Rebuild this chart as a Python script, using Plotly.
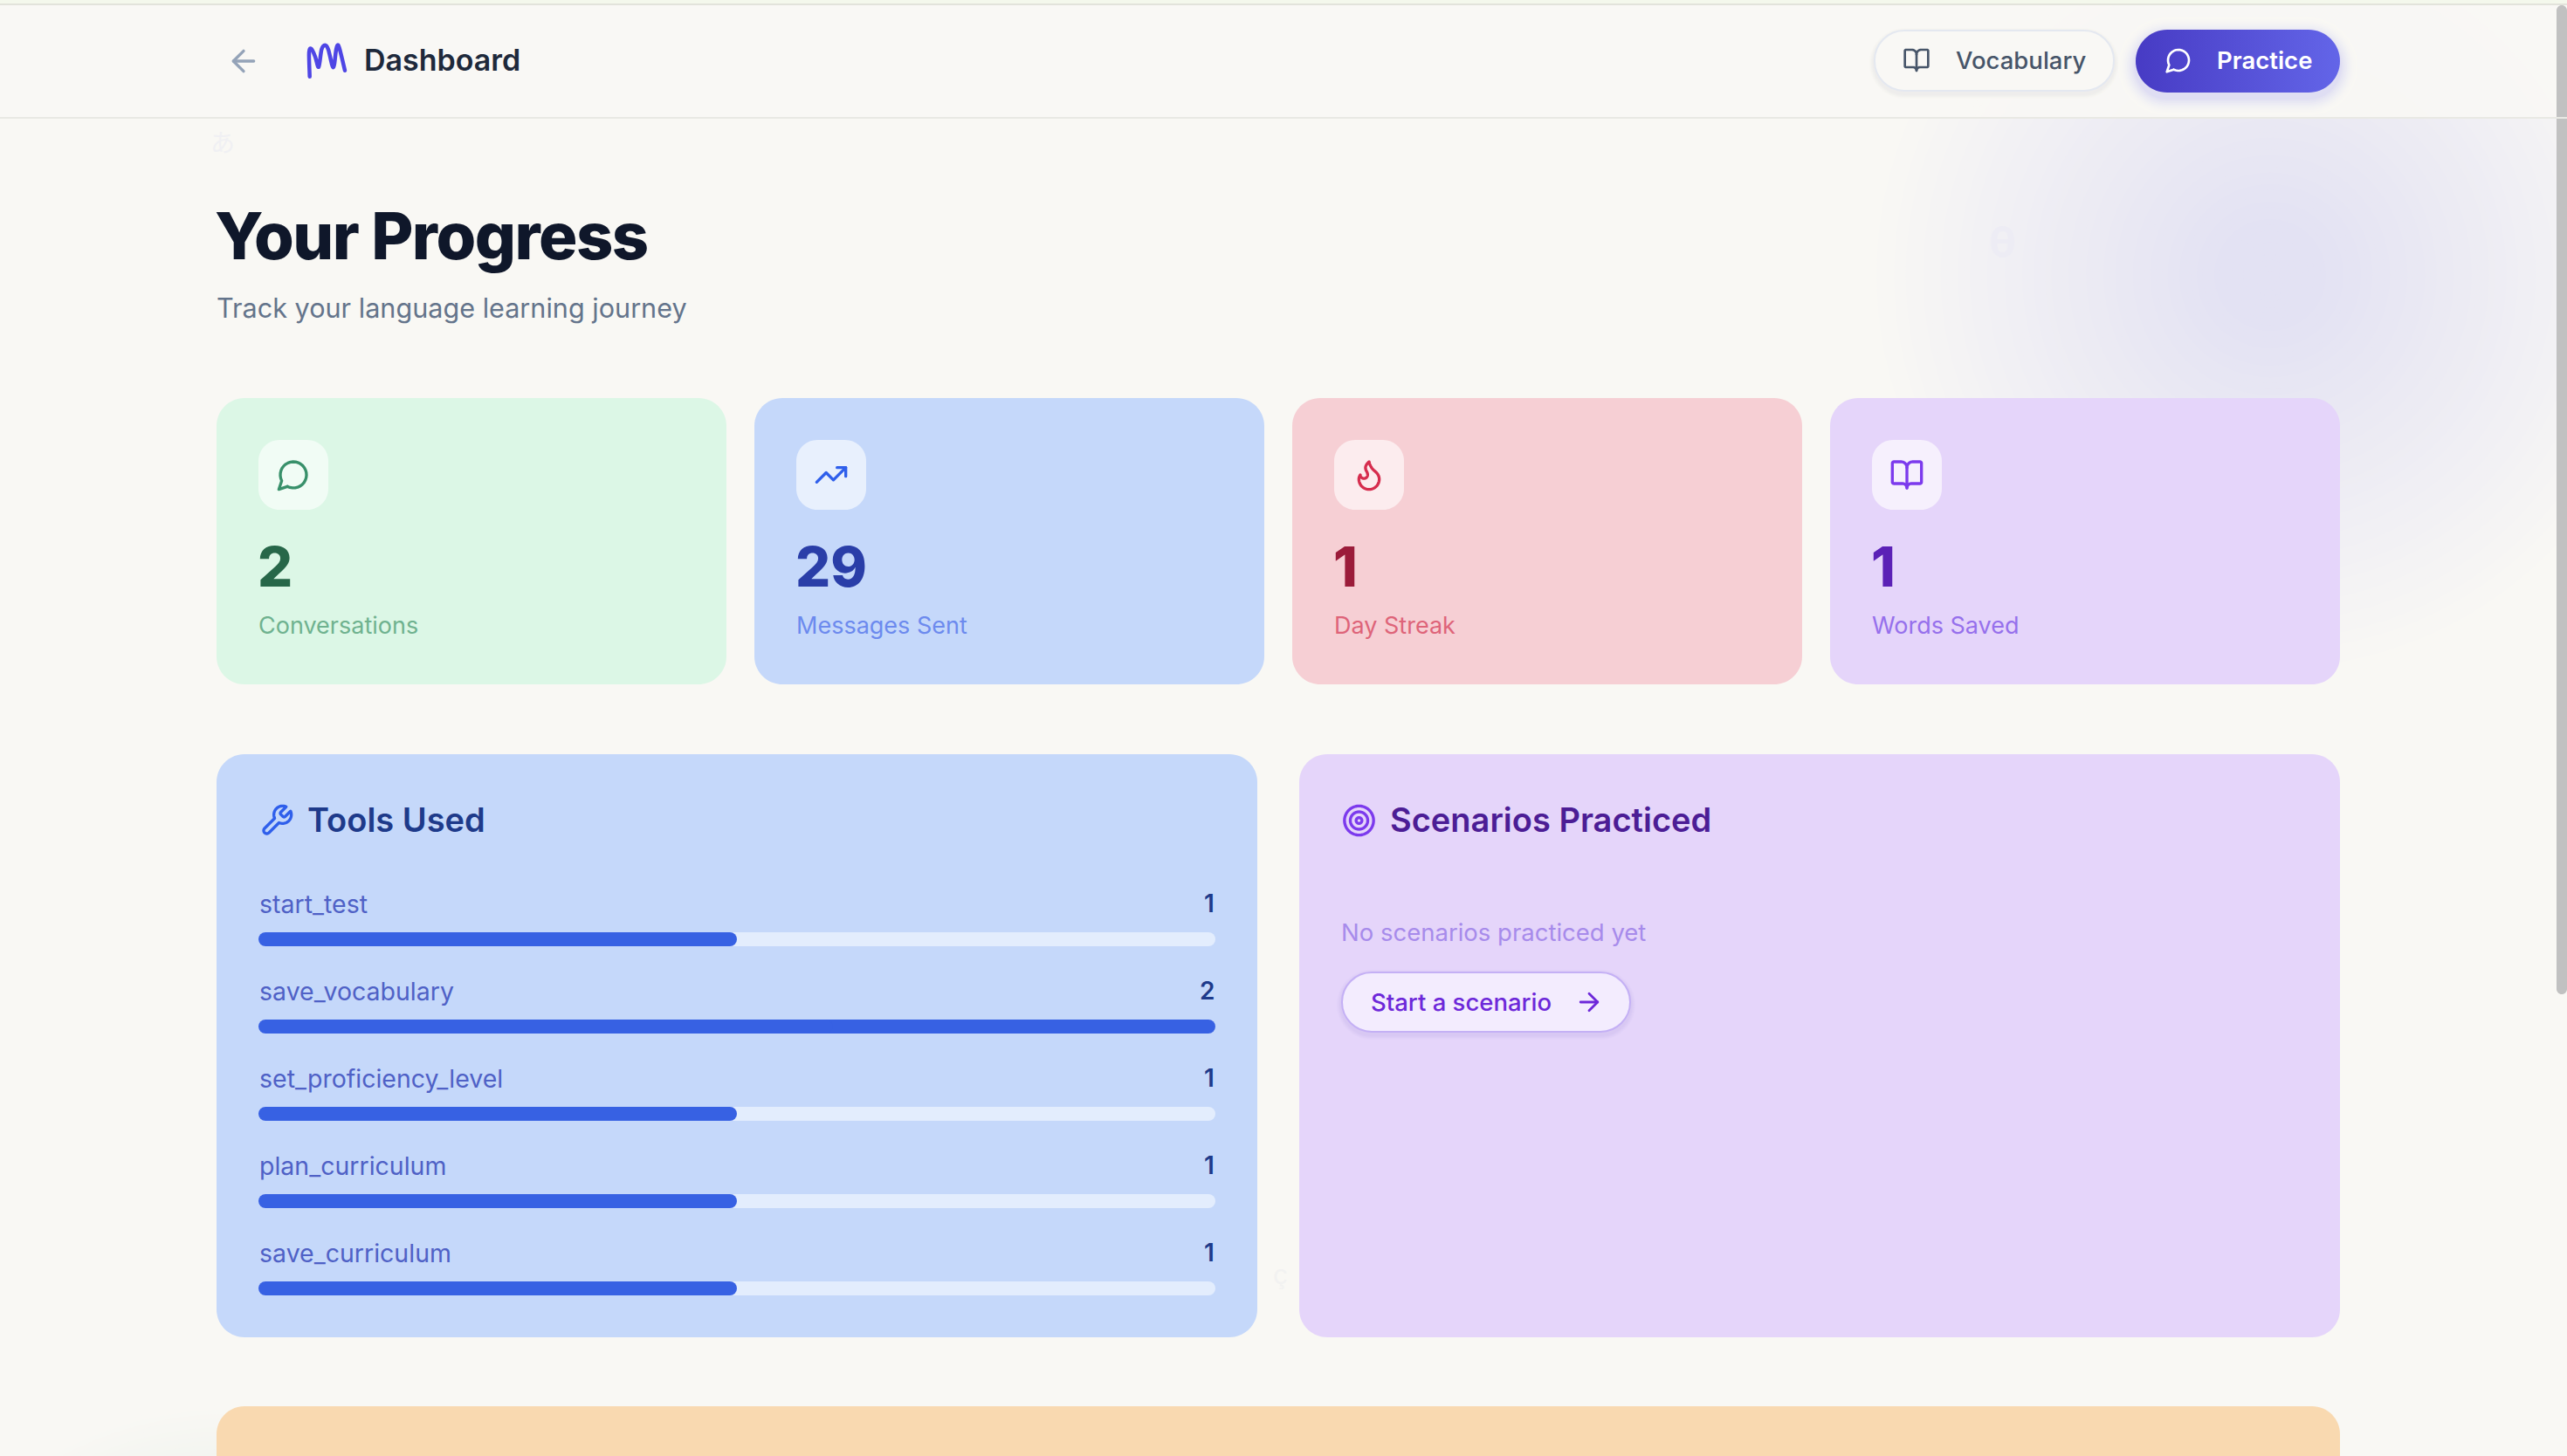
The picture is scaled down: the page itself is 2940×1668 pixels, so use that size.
import re, math
import plotly.graph_objects as go

W, H = 2940, 1668
FONT = "Inter"

# ---- data ----
tool_names = ["start_test", "save_vocabulary", "set_proficiency_level", "plan_curriculum", "save_curriculum"]
tool_counts = [1, 2, 1, 1, 1]
stat_values = ["2", "29", "1", "1"]
stat_labels = ["Conversations", "Messages Sent", "Day Streak", "Words Saved"]
page_title = "Your Progress"
page_subtitle = "Track your language learning journey"

BG = "#F9F8F4"
BLUE_CARD, PURPLE_CARD, GREEN_CARD, PINK_CARD, ORANGE_CARD = "#C5D8FA", "#E5D5FA", "#DCF7E6", "#F6CFD4", "#F9D9B0"

ICON = {
    "back": ["M19 12H5", "M12 19l-7-7 7-7"],
    "right": ["M5 12h14", "M12 5l7 7-7 7"],
    "book": ["M12 7v14", "M3 18a1 1 0 0 1-1-1V4a1 1 0 0 1 1-1h5a4 4 0 0 1 4 4 4 4 0 0 1 4-4h5a1 1 0 0 1 1 1v13a1 1 0 0 1-1 1h-6a3 3 0 0 0-3 3 3 3 0 0 0-3-3z"],
    "chat": ["M7.9 20A9 9 0 1 0 4 16.1L2 22Z"],
    "trend": ["M16 7h6v6", "M22 7l-8.5 8.5-5-5L2 17"],
    "flame": ["M8.5 14.5A2.5 2.5 0 0 0 11 12c0-1.38-.5-2-1-3-1.072-2.143-.224-4.054 2-6 .5 2.5 2 4.9 4 6.5 2 1.6 3 3.5 3 5.5a7 7 0 1 1-14 0c0-1.153.433-2.294 1-3a2.5 2.5 0 0 0 2.5 2.5z"],
    "wrench": ["M14.7 6.3a1 1 0 0 0 0 1.4l1.6 1.6a1 1 0 0 0 1.4 0l3.77-3.77a6 6 0 0 1-7.94 7.94l-6.91 6.91a2.12 2.12 0 0 1-3-3l6.91-6.91a6 6 0 0 1 7.94-7.94l-3.76 3.76z"],
    "target": ["M22 12A10 10 0 1 1 2 12A10 10 0 1 1 22 12Z", "M18 12A6 6 0 1 1 6 12A6 6 0 1 1 18 12Z", "M14 12A2 2 0 1 1 10 12A2 2 0 1 1 14 12Z"],
}


def arc_pts(x1, y1, rx, ry, large, sweep, x2, y2, n=28):
    dx, dy = (x1 - x2) / 2, (y1 - y2) / 2
    lam = dx * dx / (rx * rx) + dy * dy / (ry * ry)
    if lam > 1:
        rx *= math.sqrt(lam); ry *= math.sqrt(lam)
    num = max(0, rx*rx*ry*ry - rx*rx*dy*dy - ry*ry*dx*dx)
    den = rx*rx*dy*dy + ry*ry*dx*dx
    c = math.sqrt(num / den) if den else 0
    if large == sweep:
        c = -c
    cxp, cyp = c * rx * dy / ry, -c * ry * dx / rx
    cx, cy = cxp + (x1 + x2) / 2, cyp + (y1 + y2) / 2
    a0 = math.atan2((dy - cyp) / ry, (dx - cxp) / rx)
    a1 = math.atan2((-dy - cyp) / ry, (-dx - cxp) / rx)
    d = a1 - a0
    if sweep and d < 0:
        d += 2 * math.pi
    if not sweep and d > 0:
        d -= 2 * math.pi
    return [(cx + rx * math.cos(a0 + d * i / n), cy + ry * math.sin(a0 + d * i / n)) for i in range(1, n + 1)]


def flatten(d):
    toks = re.findall(r"[MmLlHhVvCcAaZz]|-?\d*\.?\d+", d)
    i, out, cur, x, y, cmd = 0, [], [], 0.0, 0.0, None
    while i < len(toks):
        if re.match(r"[A-Za-z]", toks[i]):
            cmd = toks[i]; i += 1
            if cmd in "Zz":
                if cur:
                    cur.append(cur[0]); x, y = cur[0]
                continue
        def nx(k):
            nonlocal i
            v = [float(t) for t in toks[i:i + k]]; i += k
            return v
        rel = cmd.islower(); c = cmd.upper()
        if c == "M":
            a, b = nx(2); x, y = (x + a, y + b) if rel else (a, b)
            if cur:
                out.append(cur)
            cur = [(x, y)]; cmd = "l" if rel else "L"
        elif c == "L":
            a, b = nx(2); x, y = (x + a, y + b) if rel else (a, b); cur.append((x, y))
        elif c == "H":
            a, = nx(1); x = x + a if rel else a; cur.append((x, y))
        elif c == "V":
            a, = nx(1); y = y + a if rel else a; cur.append((x, y))
        elif c == "C":
            v = nx(6)
            ox, oy = (x, y) if rel else (0, 0)
            p1, p2, p3 = (v[0]+ox, v[1]+oy), (v[2]+ox, v[3]+oy), (v[4]+ox, v[5]+oy)
            for k in range(1, 13):
                t = k / 12; u = 1 - t
                cur.append((u**3*x + 3*u*u*t*p1[0] + 3*u*t*t*p2[0] + t**3*p3[0],
                            u**3*y + 3*u*u*t*p1[1] + 3*u*t*t*p2[1] + t**3*p3[1]))
            x, y = p3
        elif c == "A":
            v = nx(7)
            ex, ey = (x + v[5], y + v[6]) if rel else (v[5], v[6])
            cur.extend(arc_pts(x, y, v[0], v[1], int(v[3]), int(v[4]), ex, ey))
            x, y = ex, ey
    if cur:
        out.append(cur)
    return out


def fx(x): return x / W
def fy(y): return 1 - y / H


def rr_path(x0, y0, x1, y1, r):
    k = r * 0.4477
    P = lambda x, y: f"{fx(x):.6f},{fy(y):.6f}"
    return ("M" + P(x0 + r, y0) + "L" + P(x1 - r, y0)
            + "C" + P(x1 - k, y0) + " " + P(x1, y0 + k) + " " + P(x1, y0 + r)
            + "L" + P(x1, y1 - r)
            + "C" + P(x1, y1 - k) + " " + P(x1 - k, y1) + " " + P(x1 - r, y1)
            + "L" + P(x0 + r, y1)
            + "C" + P(x0 + k, y1) + " " + P(x0, y1 - k) + " " + P(x0, y1 - r)
            + "L" + P(x0, y0 + r)
            + "C" + P(x0, y0 + k) + " " + P(x0 + k, y0) + " " + P(x0 + r, y0) + "Z")


shapes, ann = [], []


def rr(x0, y0, x1, y1, r, fill, line=None, lw=0, layer="below"):
    shapes.append(dict(type="path", path=rr_path(x0, y0, x1, y1, r), xref="paper", yref="paper",
                       fillcolor=fill, line=dict(color=line or fill, width=lw), layer=layer))


def rect(x0, y0, x1, y1, fill):
    shapes.append(dict(type="rect", xref="paper", yref="paper", x0=fx(x0), x1=fx(x1), y0=fy(y1), y1=fy(y0),
                       fillcolor=fill, line=dict(width=0), layer="below"))


def circle(cx, cy, r, fill):
    shapes.append(dict(type="circle", xref="paper", yref="paper", x0=fx(cx - r), x1=fx(cx + r),
                       y0=fy(cy + r), y1=fy(cy - r), fillcolor=fill, line=dict(width=0), layer="below"))


def lerp(c0, c1, t):
    a = [int(c0[i:i + 2], 16) for i in (1, 3, 5)]
    b = [int(c1[i:i + 2], 16) for i in (1, 3, 5)]
    return "#%02X%02X%02X" % tuple(round(p + (q - p) * t) for p, q in zip(a, b))


def icon(name, cx, cy, s, color, lw=None):
    for d in ICON[name]:
        for sub in flatten(d):
            path = "M" + "L".join(f"{fx(cx + (p[0] - 12) * s):.6f},{fy(cy + (p[1] - 12) * s):.6f}" for p in sub)
            shapes.append(dict(type="path", path=path, xref="paper", yref="paper",
                               line=dict(color=color, width=lw or 2 * s), layer="above"))


def txt(s, x, y, size, color, weight=400, anchor="left", font=FONT):
    ann.append(dict(text=s, x=fx(x), y=fy(y), xref="paper", yref="paper", xanchor=anchor, yanchor="middle",
                    align="left" if anchor == "left" else "center",
                    showarrow=False, borderpad=0, borderwidth=0,
                    font=dict(family=font, size=size, color=color, weight=weight)))


# ---- background washes ----
N = 70
for i in range(N):
    t = i / (N - 1)
    r = 460 * (1 - t) + 4
    circle(2600, 315, r, lerp(BG, "#E3E2F3", min(1, t / 0.88)))
for r in range(409, 335, -5):
    circle(260, 2019, r, lerp(BG, "#CEE3D8", 1 - r / 409))

# header
rect(0, 6, W, 134, "rgba(248,247,244,0.92)")
rect(0, 0, W, 4, "#F4F8EC")
rect(0, 4, W, 6, "#E2E3DB")

# scrollbar
rr(2928, 6, 2940, 1139, 6, "#C1C1C1")

# ghost glyphs
txt("あ", 255, 162, 28, "#F0F0F3", 400, "center", "Noto Sans CJK JP")
txt("θ", 2293, 277, 50, "#EDECF4", 700, "center")
txt("ç", 1466, 1460, 30, "#F2F2F1", 400, "center")

# header content
icon("back", 279, 70, 1.667, "#94A3B8")
logo = [(354.7, 87.7), (354, 60), (356.7, 56), (361, 65), (365, 76.7), (368.3, 56.7), (372.3, 51.7), (376, 56.7),
        (381.7, 77.3), (385, 56.7), (387.3, 51.7), (390, 60), (395, 80.7)]
seg = f"M{fx(logo[0][0]):.6f},{fy(logo[0][1]):.6f}"
for i in range(len(logo) - 1):
    p0, p1, p2, p3 = logo[max(i - 1, 0)], logo[i], logo[i + 1], logo[min(i + 2, len(logo) - 1)]
    c1 = (p1[0] + (p2[0] - p0[0]) / 6, p1[1] + (p2[1] - p0[1]) / 6)
    c2 = (p2[0] - (p3[0] - p1[0]) / 6, p2[1] - (p3[1] - p1[1]) / 6)
    seg += f"C{fx(c1[0]):.6f},{fy(c1[1]):.6f} {fx(c2[0]):.6f},{fy(c2[1]):.6f} {fx(p2[0]):.6f},{fy(p2[1]):.6f}"
shapes.append(dict(type="path", xref="paper", yref="paper", layer="above", line=dict(color="#4F46E5", width=4.5), path=seg))
txt("Dashboard", 417, 69, 34, "#1E293B", 600)

for k in range(5, 0, -1):
    rr(2146 - k, 34 - k + 3, 2422 + k, 105 + k + 3, 36 + k, lerp(BG, "#ECEBEA", (6 - k) / 6))
rr(2147, 35, 2421, 104, 34, "#F9F8F5", "#E4E8F0", 2)
icon("book", 2195, 69, 1.333, "#475569")
txt("Vocabulary", 2240, 69, 27.5, "#475569", 500)

for k in range(20, 0, -2):
    rr(2446 - k, 34 - k + 6, 2680 + k, 106 + k + 6, 36 + k, lerp(BG, "#D9D9F3", ((22 - k) / 22) ** 2))
rect(0, 134, W, 136, "#E9E9E4")
icon("chat", 2495, 69, 1.333, "#FFFFFF")
txt("Practice", 2539, 69, 27.5, "#FFFFFF", 600)

# title
txt(page_title, 246, 270, 74, "#0F172A", 800)
txt(page_subtitle, 248, 352, 30.6, "#64748B", 400)

# stat cards
card_x = [248, 864, 1480, 2096]
card_fill = [GREEN_CARD, BLUE_CARD, PINK_CARD, PURPLE_CARD]
tile_fill = ["#F1FCF5", "#E8F0FD", "#FCECEE", "#F6F0FD"]
icon_names = ["chat", "trend", "flame", "book"]
icon_cols = ["#38906A", "#2F5FEB", "#D62D4E", "#7C3AED"]
num_cols = ["#276749", "#2A3EA8", "#9B1C3A", "#5B21B6"]
lab_cols = ["#6FB28F", "#6C8AEE", "#DE6479", "#9670EC"]
for x, cf, tf, nm, ic, nc, lc, v, lab in zip(card_x, card_fill, tile_fill, icon_names, icon_cols, num_cols, lab_cols,
                                             stat_values, stat_labels):
    rr(x, 456, x + 584, 784, 32, cf)
    rr(x + 48, 504, x + 128, 584, 24, tf)
    icon(nm, x + 88, 544, 1.667, ic)
    txt(v, x + 47, 649, 63, nc, 800)
    txt(lab, x + 48, 716, 27, lc, 400)

# panels
rr(248, 864, 1440, 1532, 32, BLUE_CARD)
rr(1488, 864, 2680, 1532, 32, PURPLE_CARD)
rr(248, 1611, 2680, 1800, 32, ORANGE_CARD)

icon("wrench", 317, 940, 1.667, "#2F5FEB")
txt("Tools Used", 352, 939, 38, "#1E3A8A", 600)
icon("target", 1556.5, 940, 1.667, "#7C3AED")
txt("Scenarios Practiced", 1592, 939, 38, "#4C1D95", 600)
txt("No scenarios practiced yet", 1536, 1068, 27.5, "#A78BEB", 400)
for k in range(5, 0, -1):
    rr(1536 - k, 1113 - k + 3, 1868 + k, 1183 + k + 3, 35 + k, lerp(PURPLE_CARD, "#D5C5F2", (6 - k) / 6))
rr(1537, 1114, 1867, 1182, 34, "#F3ECFE", "#C4B0F5", 2)
txt("Start a scenario", 1570, 1148, 27.5, "#6D28D9", 500)
icon("right", 1820, 1148, 1.4, "#6D28D9")

# ---- bars through the axes ----
vmax = max(tool_counts)
n_rows = len(tool_names)
split = vmax * 0.5
overlap = vmax * 0.6
fig = go.Figure()
common = dict(y=tool_names, orientation="h", width=0.16, hoverinfo="skip", showlegend=False)
TRACK, FILL = "#E3EDFD", "#3761E3"
# track: two overlapping halves so both ends get rounded
fig.add_trace(go.Bar(x=[vmax - split] * n_rows, base=[split] * n_rows,
                     marker=dict(color=TRACK, cornerradius=8, line=dict(width=0)), **common))
fig.add_trace(go.Bar(x=[-overlap] * n_rows, base=[overlap] * n_rows,
                     marker=dict(color=TRACK, cornerradius=8, line=dict(width=0)), **common))
# fill: left end rounded, right end square except for the full bar
full = [n for n, v in zip(tool_names, tool_counts) if v == vmax]
fig.add_trace(go.Bar(y=full, x=[vmax - split] * len(full), base=[split] * len(full), orientation="h", width=0.16,
                     hoverinfo="skip", showlegend=False, marker=dict(color=FILL, cornerradius=8, line=dict(width=0))))
fill_base = [v if v < vmax else overlap for v in tool_counts]
fig.add_trace(go.Bar(x=[-b for b in fill_base], base=fill_base,
                     marker=dict(color=FILL, cornerradius=8, line=dict(width=0)), **common))

for n, v in zip(tool_names, tool_counts):
    ann.append(dict(text=n, x=0, y=n, xref="x", yref="y", xanchor="left", yanchor="middle", yshift=40.5, showarrow=False,
                    borderpad=0, font=dict(family=FONT, size=28.5, color="#4F61C6", weight=400)))
    ann.append(dict(text=str(v), x=vmax, y=n, xref="x", yref="y", xanchor="right", yanchor="middle", yshift=41, showarrow=False,
                    borderpad=0, font=dict(family=FONT, size=28, color="#1E3A8A", weight=600)))

# Practice button gradient lives on a hidden pixel-sized subplot
bx0, by0, bx1, by1, br = 2446, 34, 2680, 106, 36
bpts = []
for cx, cy, a0 in [(bx1 - br, by0 + br, -90), (bx1 - br, by1 - br, 0), (bx0 + br, by1 - br, 90), (bx0 + br, by0 + br, 180)]:
    for i in range(17):
        a = math.radians(a0 + i * 90 / 16)
        bpts.append((cx + br * math.cos(a), cy + br * math.sin(a)))
bpts.append(bpts[0])
fig.add_trace(go.Scatter(x=[p[0] for p in bpts], y=[p[1] for p in bpts], xaxis="x2", yaxis="y2", mode="none", fill="toself",
                         fillgradient=dict(type="horizontal", colorscale=[[0, "#473BC4"], [1, "#6365E8"]]),
                         hoverinfo="skip", showlegend=False))

fig.update_layout(
    width=W, height=H, margin=dict(l=0, r=0, t=0, b=0, pad=0, autoexpand=False),
    paper_bgcolor=BG, plot_bgcolor="rgba(0,0,0,0)", barmode="overlay", showlegend=False,
    xaxis=dict(domain=[296 / W, 1392 / W], range=[0, vmax], visible=False, fixedrange=True),
    yaxis=dict(domain=[1 - 1526 / H, 1 - 1026 / H], type="category", categoryorder="array", categoryarray=tool_names,
               range=[4.5, -0.5], visible=False, fixedrange=True),
    xaxis2=dict(domain=[0, 1], range=[0, W], visible=False, anchor="y2", fixedrange=True),
    yaxis2=dict(domain=[0, 1], range=[H, 0], visible=False, anchor="x2", fixedrange=True),
    shapes=shapes, annotations=ann,
)
post = ("document.body.style.margin='0';document.documentElement.style.overflow='hidden';"
        "var s=document.createElement('style');s.textContent='.shapelayer path{stroke-linejoin:round;stroke-linecap:round}';"
        "document.head.appendChild(s);"
        "document.querySelectorAll('.annotation-text').forEach(function(t){"
        "if(t.textContent==='" + page_title + "'){t.style.letterSpacing='-1.5px';}});")
fig.write_html("out.html", include_plotlyjs=True, post_script=post, config=dict(displayModeBar=False))
